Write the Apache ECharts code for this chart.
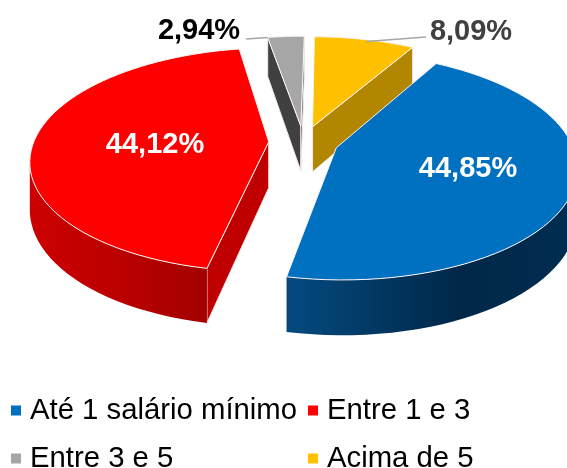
<!doctype html>
<html lang="pt">
  <head>
    <meta charset="UTF-8" />
    <title>Faixa salarial</title>
    <script src="https://cdn.jsdelivr.net/npm/echarts@6/dist/echarts.min.js"></script>
    <style>
      html, body { margin: 0; background: #fff; }
      #chart { width: 567px; height: 468px; }
    </style>
  </head>
  <body>
    <div id="chart"></div>
    <script>
      // Data
      var categories = ['Até 1 salário mínimo', 'Entre 1 e 3', 'Entre 3 e 5', 'Acima de 5'];
      var percents = [44.85, 44.12, 2.94, 8.09];

      // Slice look
      var topColors = ['#0070c0', '#ff0000', '#a6a6a6', '#ffc000'];
      var faceColors = ['#00345c', '#c00000', '#404040', '#b38600'];
      var wallStops = [
        [[0, '#044a80'], [0.6, '#002748'], [1, '#002d52']],
        [[0, '#cc0000'], [0.5, '#bb0000'], [1, '#a30000']],
        [[0, '#404040'], [1, '#404040']],
        [[0, '#b38600'], [1, '#b38600']]
      ];
      var labelColors = ['#fff', '#fff', '#000', '#404040'];
      var labelAt = [[468, 169], [155, 145], [199, 31], [471, 32]];
      var paintOrder = [5, 4, 3, 3];

      // Projection of the tilted pie plane onto the page
      var cx = 303.5, cy = 142, radX = 235, radY = 109, persp = 0.16;
      var explode = 0.148, depth = 46;
      var firstAngle = 30;
      var total = percents.reduce(function (s, v) { return s + v; }, 0);

      function project(X, Y, down) {
        var d = 1 + persp * Y;
        return [cx + (radX * X) / d, cy - (radY * Y) / d + (down ? depth / d : 0)];
      }

      function signedArea(pts) {
        var s = 0;
        for (var i = 0; i < pts.length; i++) {
          var p = pts[i], q = pts[(i + 1) % pts.length];
          s += p[0] * q[1] - q[0] * p[1];
        }
        return s / 2;
      }

      function renderSlice(params, api) {
        var i = params.seriesIndex;
        var before = 0;
        for (var n = 0; n < i; n++) before += percents[n];
        var a0 = ((firstAngle + (before / total) * 360) * Math.PI) / 180;
        var a1 = a0 + ((api.value(0) / total) * 360 * Math.PI) / 180;
        var mid = (a0 + a1) / 2;
        var ox = explode * Math.sin(mid), oy = explode * Math.cos(mid);
        var steps = 60;
        var arc = [], arcLow = [];
        for (var s = 0; s <= steps; s++) {
          var t = a0 + ((a1 - a0) * s) / steps;
          arc.push(project(ox + Math.sin(t), oy + Math.cos(t), false));
          arcLow.push(project(ox + Math.sin(t), oy + Math.cos(t), true));
        }
        var apex = project(ox, oy, false), apexLow = project(ox, oy, true);
        var children = [];

        // cut faces, only those turned towards the viewer
        [
          [apex, arc[0], arcLow[0], apexLow],
          [arc[steps], apex, apexLow, arcLow[steps]]
        ].forEach(function (quad) {
          if (signedArea(quad) < 0) {
            children.push({
              type: 'polygon',
              shape: { points: quad },
              style: { fill: faceColors[i], stroke: '#f4e9e9', lineWidth: 1 }
            });
          }
        });

        // outer wall: the runs of the arc that face the front
        var run = null;
        function flush() {
          if (run && run.up.length > 1) {
            var xs = run.up.map(function (p) { return p[0]; });
            children.push({
              type: 'polygon',
              shape: { points: run.up.concat(run.low.reverse()) },
              style: {
                fill: new echarts.graphic.LinearGradient(
                  Math.min.apply(null, xs), 0, Math.max.apply(null, xs), 0,
                  wallStops[i].map(function (c) { return { offset: c[0], color: c[1] }; }),
                  true
                )
              }
            });
          }
          run = null;
        }
        for (var k = 0; k < steps; k++) {
          if (arc[k + 1][0] < arc[k][0] && arc[k][1] > apex[1] - 4) {
            if (!run) run = { up: [arc[k]], low: [arcLow[k]] };
            run.up.push(arc[k + 1]);
            run.low.push(arcLow[k + 1]);
          } else {
            flush();
          }
        }
        flush();

        // top of the slice
        children.push({
          type: 'polygon',
          shape: { points: [apex].concat(arc) },
          style: { fill: api.visual('color'), stroke: '#fbf4f4', lineWidth: 1 }
        });

        // leader lines of the two small slices
        if (i === 2) {
          children.push({
            type: 'line',
            shape: { x1: labelAt[i][0] + 47, y1: 39, x2: arc[0][0], y2: arc[0][1] },
            style: { stroke: '#a6a6a6', lineWidth: 1.5 }
          });
        }
        if (i === 3) {
          var m = arc[Math.round(steps / 2)];
          children.push({
            type: 'line',
            shape: { x1: m[0] + 2, y1: m[1] + 2, x2: labelAt[i][0] - 45, y2: 37 },
            style: { stroke: '#a6a6a6', lineWidth: 1.5 }
          });
        }

        children.push({
          type: 'text',
          x: labelAt[i][0],
          y: labelAt[i][1],
          style: {
            text: api.value(0).toFixed(2).replace('.', ',') + '%',
            fill: labelColors[i],
            font: 'bold 29px "Liberation Sans", Arial, sans-serif',
            textAlign: 'center',
            textVerticalAlign: 'middle'
          }
        });

        return { type: 'group', children: children };
      }

      var legendText = {
        color: '#000',
        fontFamily: '"Liberation Sans", Arial, sans-serif',
        fontSize: 29.3,
        padding: [0, 0, 0, 4]
      };

      var option = {
        animation: false,
        backgroundColor: '#fff',
        legend: [
          {
            orient: 'vertical', left: 11, top: 396, height: 120, icon: 'rect',
            itemWidth: 10, itemHeight: 10, itemGap: 19, padding: 0,
            selectedMode: false, textStyle: legendText,
            data: [categories[0], categories[2]]
          },
          {
            orient: 'vertical', left: 308, top: 396, height: 120, icon: 'rect',
            itemWidth: 10, itemHeight: 10, itemGap: 19, padding: 0,
            selectedMode: false, textStyle: legendText,
            data: [categories[1], categories[3]]
          }
        ],
        series: categories.map(function (name, i) {
          return {
            type: 'custom',
            name: name,
            coordinateSystem: 'none',
            z: paintOrder[i],
            silent: true,
            itemStyle: { color: topColors[i] },
            renderItem: renderSlice,
            data: [[percents[i]]]
          };
        })
      };

      var myChart = echarts.init(document.getElementById('chart'));
      myChart.setOption(option);
    </script>
  </body>
</html>
